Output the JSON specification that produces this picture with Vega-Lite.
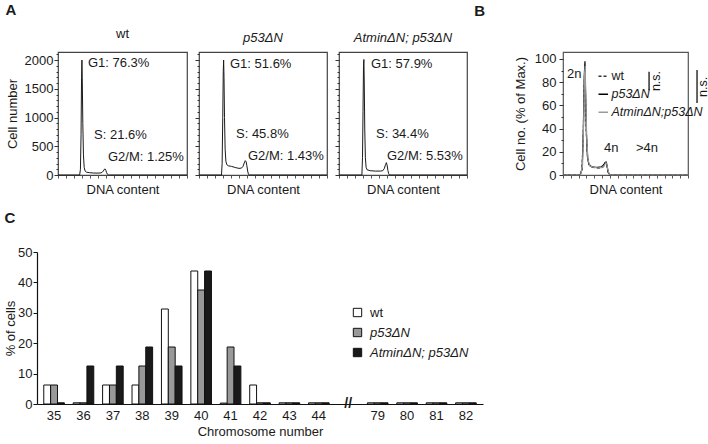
{
"$schema": "https://vega.github.io/schema/vega-lite/v6.json",
"padding": {"left": 4, "top": 2, "right": 0, "bottom": 0},
"config": {
  "font": "Liberation Sans",
  "view": {"stroke": null},
  "axis": {"labelFontSize": 13, "titleFontSize": 13, "titleFontWeight": "normal", "labelColor": "#1a1a1a", "titleColor": "#1a1a1a", "tickColor": "#333333", "domainColor": "#1a1a1a", "grid": false, "labelFont": "Liberation Sans", "titleFont": "Liberation Sans", "labelOverlap": false},
  "title": {"fontSize": 13, "fontWeight": "normal", "color": "#1a1a1a", "font": "Liberation Sans"},
  "text": {"font": "Liberation Sans", "fontSize": 13, "color": "#1a1a1a"},
  "legend": {"labelFont": "Liberation Sans", "labelFontSize": 13, "labelColor": "#1a1a1a"}
},
"datasets": {
  "hist": [
    {"sample":"wt","x":0,"count":0},{"sample":"wt","x":150,"count":0},{"sample":"wt","x":172,"count":0},{"sample":"wt","x":178,"count":100},{"sample":"wt","x":183,"count":700},{"sample":"wt","x":187,"count":1700},{"sample":"wt","x":190,"count":2000},{"sample":"wt","x":193,"count":1600},{"sample":"wt","x":197,"count":900},{"sample":"wt","x":202,"count":350},{"sample":"wt","x":208,"count":130},{"sample":"wt","x":215,"count":70},{"sample":"wt","x":225,"count":50},{"sample":"wt","x":250,"count":40},{"sample":"wt","x":280,"count":35},{"sample":"wt","x":310,"count":33},{"sample":"wt","x":335,"count":35},{"sample":"wt","x":350,"count":45},{"sample":"wt","x":360,"count":70},{"sample":"wt","x":368,"count":100},{"sample":"wt","x":374,"count":105},{"sample":"wt","x":380,"count":80},{"sample":"wt","x":386,"count":40},{"sample":"wt","x":392,"count":15},{"sample":"wt","x":400,"count":3},{"sample":"wt","x":410,"count":0},{"sample":"wt","x":1024,"count":0},
    {"sample":"p53","x":0,"count":0},{"sample":"p53","x":180,"count":0},{"sample":"p53","x":185,"count":200},{"sample":"p53","x":190,"count":1000},{"sample":"p53","x":194,"count":1800},{"sample":"p53","x":197,"count":2000},{"sample":"p53","x":200,"count":1700},{"sample":"p53","x":204,"count":1000},{"sample":"p53","x":209,"count":450},{"sample":"p53","x":215,"count":240},{"sample":"p53","x":222,"count":180},{"sample":"p53","x":235,"count":160},{"sample":"p53","x":260,"count":150},{"sample":"p53","x":290,"count":130},{"sample":"p53","x":320,"count":115},{"sample":"p53","x":340,"count":120},{"sample":"p53","x":352,"count":150},{"sample":"p53","x":362,"count":210},{"sample":"p53","x":370,"count":250},{"sample":"p53","x":377,"count":230},{"sample":"p53","x":383,"count":160},{"sample":"p53","x":389,"count":70},{"sample":"p53","x":395,"count":20},{"sample":"p53","x":402,"count":0},{"sample":"p53","x":1024,"count":0},
    {"sample":"atmin","x":0,"count":0},{"sample":"atmin","x":183,"count":0},{"sample":"atmin","x":188,"count":300},{"sample":"atmin","x":192,"count":1100},{"sample":"atmin","x":196,"count":1900},{"sample":"atmin","x":199,"count":2010},{"sample":"atmin","x":202,"count":1600},{"sample":"atmin","x":206,"count":800},{"sample":"atmin","x":211,"count":300},{"sample":"atmin","x":217,"count":130},{"sample":"atmin","x":225,"count":90},{"sample":"atmin","x":250,"count":75},{"sample":"atmin","x":290,"count":68},{"sample":"atmin","x":330,"count":68},{"sample":"atmin","x":350,"count":75},{"sample":"atmin","x":362,"count":110},{"sample":"atmin","x":372,"count":180},{"sample":"atmin","x":379,"count":215},{"sample":"atmin","x":385,"count":170},{"sample":"atmin","x":391,"count":80},{"sample":"atmin","x":397,"count":25},{"sample":"atmin","x":404,"count":0},{"sample":"atmin","x":1024,"count":0}
  ],
  "pct": [
    {"sample":"wt","x":0,"pct":0},{"sample":"wt","x":140,"pct":0},{"sample":"wt","x":155,"pct":5},{"sample":"wt","x":165,"pct":30},{"sample":"wt","x":172,"pct":70},{"sample":"wt","x":178,"pct":90},{"sample":"wt","x":183,"pct":75},{"sample":"wt","x":190,"pct":40},{"sample":"wt","x":198,"pct":20},{"sample":"wt","x":210,"pct":10},{"sample":"wt","x":230,"pct":7},{"sample":"wt","x":270,"pct":6},{"sample":"wt","x":310,"pct":6},{"sample":"wt","x":330,"pct":7},{"sample":"wt","x":343,"pct":10},{"sample":"wt","x":352,"pct":11},{"sample":"wt","x":360,"pct":8},{"sample":"wt","x":368,"pct":3},{"sample":"wt","x":378,"pct":0},{"sample":"wt","x":1024,"pct":0},
    {"sample":"p53ΔN","x":0,"pct":0},{"sample":"p53ΔN","x":140,"pct":0},{"sample":"p53ΔN","x":157,"pct":5},{"sample":"p53ΔN","x":167,"pct":40},{"sample":"p53ΔN","x":174,"pct":85},{"sample":"p53ΔN","x":180,"pct":98},{"sample":"p53ΔN","x":185,"pct":70},{"sample":"p53ΔN","x":192,"pct":35},{"sample":"p53ΔN","x":200,"pct":16},{"sample":"p53ΔN","x":212,"pct":9},{"sample":"p53ΔN","x":235,"pct":7},{"sample":"p53ΔN","x":280,"pct":6.5},{"sample":"p53ΔN","x":315,"pct":7},{"sample":"p53ΔN","x":335,"pct":9},{"sample":"p53ΔN","x":347,"pct":11},{"sample":"p53ΔN","x":355,"pct":11},{"sample":"p53ΔN","x":362,"pct":7},{"sample":"p53ΔN","x":372,"pct":2},{"sample":"p53ΔN","x":385,"pct":0},{"sample":"p53ΔN","x":1024,"pct":0},
    {"sample":"AtminΔN;p53ΔN","x":0,"pct":0},{"sample":"AtminΔN;p53ΔN","x":145,"pct":0},{"sample":"AtminΔN;p53ΔN","x":160,"pct":8},{"sample":"AtminΔN;p53ΔN","x":170,"pct":50},{"sample":"AtminΔN;p53ΔN","x":177,"pct":88},{"sample":"AtminΔN;p53ΔN","x":182,"pct":94},{"sample":"AtminΔN;p53ΔN","x":188,"pct":60},{"sample":"AtminΔN;p53ΔN","x":195,"pct":30},{"sample":"AtminΔN;p53ΔN","x":204,"pct":14},{"sample":"AtminΔN;p53ΔN","x":218,"pct":8},{"sample":"AtminΔN;p53ΔN","x":240,"pct":7},{"sample":"AtminΔN;p53ΔN","x":285,"pct":6},{"sample":"AtminΔN;p53ΔN","x":320,"pct":6.5},{"sample":"AtminΔN;p53ΔN","x":338,"pct":8},{"sample":"AtminΔN;p53ΔN","x":350,"pct":10.5},{"sample":"AtminΔN;p53ΔN","x":358,"pct":10},{"sample":"AtminΔN;p53ΔN","x":366,"pct":5},{"sample":"AtminΔN;p53ΔN","x":378,"pct":1},{"sample":"AtminΔN;p53ΔN","x":388,"pct":0},{"sample":"AtminΔN;p53ΔN","x":1024,"pct":0}
  ],
  "chrom": [
    {"chrom":"35","genotype":"wt","pct":6.25},{"chrom":"35","genotype":"p53ΔN","pct":6.25},{"chrom":"35","genotype":"AtminΔN; p53ΔN","pct":0.4},
    {"chrom":"36","genotype":"wt","pct":0.4},{"chrom":"36","genotype":"p53ΔN","pct":0.4},{"chrom":"36","genotype":"AtminΔN; p53ΔN","pct":12.5},
    {"chrom":"37","genotype":"wt","pct":6.25},{"chrom":"37","genotype":"p53ΔN","pct":6.25},{"chrom":"37","genotype":"AtminΔN; p53ΔN","pct":12.5},
    {"chrom":"38","genotype":"wt","pct":6.25},{"chrom":"38","genotype":"p53ΔN","pct":12.5},{"chrom":"38","genotype":"AtminΔN; p53ΔN","pct":18.75},
    {"chrom":"39","genotype":"wt","pct":31.25},{"chrom":"39","genotype":"p53ΔN","pct":18.75},{"chrom":"39","genotype":"AtminΔN; p53ΔN","pct":12.5},
    {"chrom":"40","genotype":"wt","pct":43.75},{"chrom":"40","genotype":"p53ΔN","pct":37.5},{"chrom":"40","genotype":"AtminΔN; p53ΔN","pct":43.75},
    {"chrom":"41","genotype":"wt","pct":0.3},{"chrom":"41","genotype":"p53ΔN","pct":18.75},{"chrom":"41","genotype":"AtminΔN; p53ΔN","pct":12.5},
    {"chrom":"42","genotype":"wt","pct":6.25},{"chrom":"42","genotype":"p53ΔN","pct":0.4},{"chrom":"42","genotype":"AtminΔN; p53ΔN","pct":0.4},
    {"chrom":"43","genotype":"wt","pct":0.4},{"chrom":"43","genotype":"p53ΔN","pct":0.4},{"chrom":"43","genotype":"AtminΔN; p53ΔN","pct":0.4},
    {"chrom":"44","genotype":"wt","pct":0.4},{"chrom":"44","genotype":"p53ΔN","pct":0.4},{"chrom":"44","genotype":"AtminΔN; p53ΔN","pct":0.4},
    {"chrom":"79","genotype":"wt","pct":0.4},{"chrom":"79","genotype":"p53ΔN","pct":0.4},{"chrom":"79","genotype":"AtminΔN; p53ΔN","pct":0.4},
    {"chrom":"80","genotype":"wt","pct":0.4},{"chrom":"80","genotype":"p53ΔN","pct":0.4},{"chrom":"80","genotype":"AtminΔN; p53ΔN","pct":0.4},
    {"chrom":"81","genotype":"wt","pct":0.4},{"chrom":"81","genotype":"p53ΔN","pct":0.4},{"chrom":"81","genotype":"AtminΔN; p53ΔN","pct":0.4},
    {"chrom":"82","genotype":"wt","pct":0.4},{"chrom":"82","genotype":"p53ΔN","pct":0.4},{"chrom":"82","genotype":"AtminΔN; p53ΔN","pct":0.4}
  ]
},
"columns": 1,
"align": "none",
"spacing": 13,
"concat": [
 {"spacing": 3,
  "hconcat": [
   {"title": {"text": "A", "anchor": "start", "fontSize": 15, "fontWeight": "bold", "offset": 10},
    "spacing": 3,
    "hconcat": [
     {"title": {"text": "wt", "offset": 7},
      "width": 129, "height": 123,
      "view": {"stroke": "#444444", "strokeWidth": 1.2},
      "layer": [
       {"data": {"name": "hist"}, "transform": [{"filter": "datum.sample === 'wt'"}],
        "mark": {"type": "line", "color": "#1a1a1a", "strokeWidth": 1},
        "encoding": {
         "x": {"field": "x", "type": "quantitative", "scale": {"domain": [0, 1024], "nice": false}, "axis": {"title": "DNA content", "labels": false, "tickCount": 40, "values": [0,64,128,192,256,320,384,448,512,576,640,704,768,832,896,960,1024], "tickSize": 3, "tickColor": "#555555", "domain": false, "titlePadding": 5}},
         "y": {"field": "count", "type": "quantitative", "scale": {"domain": [0, 2140], "nice": false}, "axis": {"title": "Cell number", "tickCount": 40, "values": [0,100,200,300,400,500,600,700,800,900,1000,1100,1200,1300,1400,1500,1600,1700,1800,1900,2000,2100], "format": "d", "labelOverlap": false, "labelExpr": "datum.value % 500 === 0 ? datum.label : ''", "tickSize": {"condition": {"test": "datum.value % 500 === 0", "value": 4}, "value": 2}, "domain": false, "labelPadding": 1, "titlePadding": 5}}
        }},
       {"data": {"values": [{}]}, "mark": {"type": "text", "align": "left", "baseline": "middle"}, "encoding": {"x": {"datum": 238}, "y": {"datum": 1948}, "text": {"value": "G1: 76.3%"}}},
       {"data": {"values": [{}]}, "mark": {"type": "text", "align": "left", "baseline": "middle"}, "encoding": {"x": {"datum": 286}, "y": {"datum": 696}, "text": {"value": "S: 21.6%"}}},
       {"data": {"values": [{}]}, "mark": {"type": "text", "align": "left", "baseline": "middle"}, "encoding": {"x": {"datum": 397}, "y": {"datum": 313}, "text": {"value": "G2/M: 1.25%"}}}
      ]},
     {"title": {"text": "p53ΔN", "offset": 7, "fontStyle": "italic"},
      "width": 128, "height": 123,
      "view": {"stroke": "#444444", "strokeWidth": 1.2},
      "layer": [
       {"data": {"name": "hist"}, "transform": [{"filter": "datum.sample === 'p53'"}],
        "mark": {"type": "line", "color": "#1a1a1a", "strokeWidth": 1},
        "encoding": {
         "x": {"field": "x", "type": "quantitative", "scale": {"domain": [0, 1024], "nice": false}, "axis": {"title": "DNA content", "labels": false, "tickCount": 40, "values": [0,64,128,192,256,320,384,448,512,576,640,704,768,832,896,960,1024], "tickSize": 3, "tickColor": "#555555", "domain": false, "titlePadding": 5}},
         "y": {"field": "count", "type": "quantitative", "scale": {"domain": [0, 2140], "nice": false}, "axis": {"title": null, "labels": false, "tickCount": 40, "values": [0,100,200,300,400,500,600,700,800,900,1000,1100,1200,1300,1400,1500,1600,1700,1800,1900,2000,2100], "tickSize": {"condition": {"test": "datum.value % 500 === 0", "value": 4}, "value": 2}, "domain": false}}
        }},
       {"data": {"values": [{}]}, "mark": {"type": "text", "align": "left", "baseline": "middle"}, "encoding": {"x": {"datum": 248}, "y": {"datum": 1930}, "text": {"value": "G1: 51.6%"}}},
       {"data": {"values": [{}]}, "mark": {"type": "text", "align": "left", "baseline": "middle"}, "encoding": {"x": {"datum": 296}, "y": {"datum": 713}, "text": {"value": "S: 45.8%"}}},
       {"data": {"values": [{}]}, "mark": {"type": "text", "align": "left", "baseline": "middle"}, "encoding": {"x": {"datum": 392}, "y": {"datum": 330}, "text": {"value": "G2/M: 1.43%"}}}
      ]},
     {"title": {"text": "AtminΔN; p53ΔN", "offset": 7, "fontStyle": "italic"},
      "width": 128, "height": 123,
      "view": {"stroke": "#444444", "strokeWidth": 1.2},
      "layer": [
       {"data": {"name": "hist"}, "transform": [{"filter": "datum.sample === 'atmin'"}],
        "mark": {"type": "line", "color": "#1a1a1a", "strokeWidth": 1},
        "encoding": {
         "x": {"field": "x", "type": "quantitative", "scale": {"domain": [0, 1024], "nice": false}, "axis": {"title": "DNA content", "labels": false, "tickCount": 40, "values": [0,64,128,192,256,320,384,448,512,576,640,704,768,832,896,960,1024], "tickSize": 3, "tickColor": "#555555", "domain": false, "titlePadding": 5}},
         "y": {"field": "count", "type": "quantitative", "scale": {"domain": [0, 2140], "nice": false}, "axis": {"title": null, "labels": false, "tickCount": 40, "values": [0,100,200,300,400,500,600,700,800,900,1000,1100,1200,1300,1400,1500,1600,1700,1800,1900,2000,2100], "tickSize": {"condition": {"test": "datum.value % 500 === 0", "value": 4}, "value": 2}, "domain": false}}
        }},
       {"data": {"values": [{}]}, "mark": {"type": "text", "align": "left", "baseline": "middle"}, "encoding": {"x": {"datum": 256}, "y": {"datum": 1930}, "text": {"value": "G1: 57.9%"}}},
       {"data": {"values": [{}]}, "mark": {"type": "text", "align": "left", "baseline": "middle"}, "encoding": {"x": {"datum": 296}, "y": {"datum": 713}, "text": {"value": "S: 34.4%"}}},
       {"data": {"values": [{}]}, "mark": {"type": "text", "align": "left", "baseline": "middle"}, "encoding": {"x": {"datum": 384}, "y": {"datum": 330}, "text": {"value": "G2/M: 5.53%"}}}
      ]}
    ]},
   {"title": {"text": "B", "anchor": "start", "fontSize": 15, "fontWeight": "bold", "offset": 33, "dx": -40},
    "width": 125, "height": 123,
    "view": {"stroke": "#555555", "strokeWidth": 1.2},
    "layer": [
     {"data": {"name": "pct"},
      "mark": {"type": "line", "strokeWidth": 1.2},
      "encoding": {
       "x": {"field": "x", "type": "quantitative", "scale": {"domain": [0, 1024], "nice": false}, "axis": {"title": "DNA content", "labels": false, "tickCount": 40, "values": [0,64,128,192,256,320,384,448,512,576,640,704,768,832,896,960,1024], "tickSize": 3, "tickColor": "#555555", "domain": false, "titlePadding": 5}},
       "y": {"field": "pct", "type": "quantitative", "scale": {"domain": [0, 106], "nice": false}, "axis": {"title": "Cell no. (% of Max.)", "tickCount": 40, "values": [0,10,20,30,40,50,60,70,80,90,100], "labelOverlap": false, "labelExpr": "datum.value % 20 === 0 ? datum.label : ''", "tickSize": {"condition": {"test": "datum.value % 20 === 0", "value": 4}, "value": 2}, "domain": false, "labelPadding": 3, "titlePadding": 7}},
       "color": {"field": "sample", "type": "nominal", "scale": {"domain": ["wt", "p53ΔN", "AtminΔN;p53ΔN"], "range": ["#333333", "#000000", "#9a9a9a"]},
         "legend": {"title": null, "orient": "none", "legendX": 539, "legendY": 18, "symbolType": "stroke", "symbolSize": 90, "symbolStrokeWidth": 1.5, "labelFontSize": 12.5, "labelOffset": 2, "rowPadding": 5, "encode": {"labels": {"update": {"fontStyle": [{"test": "datum.label !== 'wt'", "value": "italic"}, {"value": "normal"}]}}}}},
       "strokeDash": {"field": "sample", "type": "nominal", "scale": {"domain": ["wt", "p53ΔN", "AtminΔN;p53ΔN"], "range": [[3, 2], [1, 0], [1, 0]]},
         "legend": {"title": null, "orient": "none", "legendX": 539, "legendY": 18, "symbolType": "stroke", "symbolSize": 90, "symbolStrokeWidth": 1.5, "labelFontSize": 12.5, "labelOffset": 2, "rowPadding": 5, "encode": {"labels": {"update": {"fontStyle": [{"test": "datum.label !== 'wt'", "value": "italic"}, {"value": "normal"}]}}}}}
      }},
     {"data": {"values": [{}]}, "mark": {"type": "text", "align": "left", "baseline": "middle"}, "encoding": {"x": {"datum": 33}, "y": {"datum": 87}, "text": {"value": "2n"}}},
     {"data": {"values": [{}]}, "mark": {"type": "text", "align": "left", "baseline": "middle"}, "encoding": {"x": {"datum": 336}, "y": {"datum": 23}, "text": {"value": "4n"}}},
     {"data": {"values": [{}]}, "mark": {"type": "text", "align": "left", "baseline": "middle"}, "encoding": {"x": {"datum": 598}, "y": {"datum": 23}, "text": {"value": ">4n"}}},
     {"data": {"values": [{}]}, "mark": {"type": "rule", "strokeWidth": 1.3, "color": "#111111"}, "encoding": {"x": {"datum": 705}, "y": {"datum": 89}, "y2": {"datum": 73}}},
     {"data": {"values": [{}]}, "mark": {"type": "rule", "strokeWidth": 1.3, "color": "#111111"}, "encoding": {"x": {"datum": 1098}, "y": {"datum": 90.5}, "y2": {"datum": 62}}},
     {"data": {"values": [{}]}, "mark": {"type": "text", "angle": 270, "align": "center", "baseline": "middle", "fontSize": 12.5}, "encoding": {"x": {"datum": 762}, "y": {"datum": 81}, "text": {"value": "n.s."}}},
     {"data": {"values": [{}]}, "mark": {"type": "text", "angle": 270, "align": "center", "baseline": "middle", "fontSize": 12.5}, "encoding": {"x": {"datum": 1147}, "y": {"datum": 76}, "text": {"value": "n.s."}}}
    ]}
  ]},
 {"title": {"text": "C", "anchor": "start", "fontSize": 15, "fontWeight": "bold", "offset": 20},
  "width": 425, "height": 152,
  "layer": [
   {"data": {"name": "chrom"},
    "mark": {"type": "bar", "stroke": "#111111", "strokeWidth": 1},
    "encoding": {
     "x": {"field": "chrom", "type": "nominal", "scale": {"domain": ["35","36","37","38","39","40","41","42","43","44"," ","79","80","81","82"], "range": [-21, 425], "paddingInner": 0.3, "paddingOuter": 0.23}, "axis": {"title": "Chromosome number", "labelAngle": 0, "ticks": false, "labelPadding": 5, "titlePadding": 3, "domainColor": "#111111", "domainWidth": 1.2}},
     "xOffset": {"field": "genotype", "type": "nominal", "scale": {"domain": ["wt", "p53ΔN", "AtminΔN; p53ΔN"], "paddingInner": 0, "paddingOuter": 0}},
     "y": {"field": "pct", "type": "quantitative", "scale": {"domain": [0, 50], "nice": false}, "axis": {"title": "% of cells", "offset": 21, "tickCount": 40, "values": [0,10,20,30,40,50], "labelOverlap": false, "tickSize": 4, "tickColor": "#111111", "labelPadding": 1, "titlePadding": 0, "domainColor": "#111111", "domainWidth": 1.2}},
     "fill": {"field": "genotype", "type": "nominal", "scale": {"domain": ["wt", "p53ΔN", "AtminΔN; p53ΔN"], "range": ["#ffffff", "#999999", "#1a1a1a"]},
       "legend": {"title": null, "orient": "none", "legendX": 293, "legendY": 254, "symbolType": "square", "symbolSize": 70, "symbolStrokeColor": "#111111", "symbolStrokeWidth": 1, "labelFontSize": 13, "labelOffset": 6, "rowPadding": 6, "encode": {"labels": {"update": {"fontStyle": [{"test": "datum.label !== 'wt'", "value": "italic"}, {"value": "normal"}]}}}}}
    }},
   {"data": {"values": [{}]}, "mark": {"type": "text", "text": "//", "fontWeight": "bold", "fontSize": 14, "baseline": "middle", "align": "center"}, "encoding": {"x": {"datum": " "}, "y": {"datum": 0}}}
  ]}
]
}
